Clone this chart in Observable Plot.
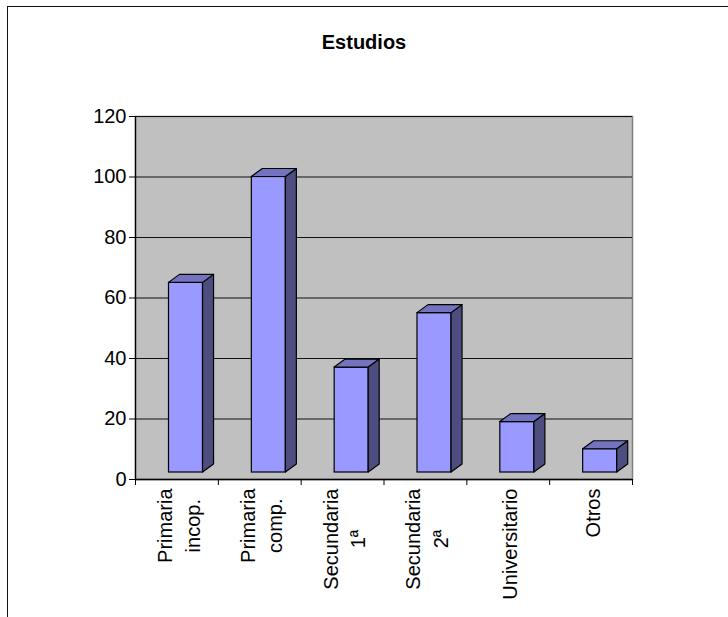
<!DOCTYPE html>
<html>
<head>
<meta charset="utf-8">
<script src="https://cdn.jsdelivr.net/npm/d3@7"></script>
<script src="https://cdn.jsdelivr.net/npm/@observablehq/plot@0.6"></script>
<style>
  html, body { margin: 0; padding: 0; background: #fff; overflow: hidden; }
  #wrap { position: relative; width: 728px; height: 617px; font-family: "Liberation Sans", Arial, sans-serif; }
  #border { position: absolute; left: 7px; top: 6px; width: 760px; height: 660px;
            border-left: 1.5px solid #111; border-top: 1.5px solid #111; pointer-events: none; }
  #title { position: absolute; left: 0; width: 728px; top: 31px; text-align: center;
           font-size: 20px; font-weight: bold; color: #000; }
  #chart { position: absolute; left: 0; top: 0; }
</style>
</head>
<body>
<div id="wrap">
  <div id="chart"></div>
  <div id="border"></div>
  <div id="title">Estudios</div>
</div>
<script>
const categories = ["Primaria\nincop.", "Primaria\ncomp.", "Secundaria\n1ª", "Secundaria\n2ª", "Universitario", "Otros"];
const values = [65, 100, 37, 55, 19, 10];
const yTicks = [0, 20, 40, 60, 80, 100, 120];

const data = categories.map((c, i) => ({i, cat: c, v: values[i]}));

const INSET_L = 33.5, INSET_R = 15.3, FLOOR = 7, DX = 11, DY = 8;
const LABEL_FONT = 20, LABEL_GAP = 9;

const ctx = document.createElement("canvas").getContext("2d");
ctx.font = `${LABEL_FONT}px "Liberation Sans", Arial, sans-serif`;
const longest = s => d3.max(s.split("\n"), l => ctx.measureText(l).width);

function faces(index, scales) {
  const x = scales.x, y = scales.y;
  const g = d3.create("svg:g");
  for (const d of data) {
    const xl = x(d.i) + INSET_L;
    const xr = x(d.i + 1) - INSET_R;
    const yt = y(d.v);
    const yb = y(0) - FLOOR;
    g.append("polygon")
      .attr("points", [[xr, yt], [xr + DX, yt - DY], [xr + DX, yb - DY], [xr, yb]].map(p => p.join(",")).join(" "))
      .attr("fill", "#4D4D80").attr("stroke", "#000").attr("stroke-width", 1.2).attr("stroke-linejoin", "round");
    g.append("polygon")
      .attr("points", [[xl, yt], [xl + DX, yt - DY], [xr + DX, yt - DY], [xr, yt]].map(p => p.join(",")).join(" "))
      .attr("fill", "#7373BF").attr("stroke", "#000").attr("stroke-width", 1.2).attr("stroke-linejoin", "round");
  }
  return g.node();
}

const labelMarks = data.map(d => Plot.text([d], {
  x: e => e.i + 0.5, y: 0, text: "cat", rotate: -90, textAnchor: "middle",
  dy: LABEL_GAP + longest(d.cat) / 2, lineHeight: 1.38, fontSize: LABEL_FONT, fill: "#000"
}));

const chart = Plot.plot({
  width: 728,
  height: 617,
  marginLeft: 135,
  marginRight: 96,
  marginTop: 116,
  marginBottom: 138,
  style: { fontFamily: "'Liberation Sans', Arial, sans-serif", fontSize: "20px", color: "#000", background: "transparent" },
  x: { type: "linear", domain: [0, categories.length] },
  y: { domain: [0, 120] },
  marks: [
    Plot.frame({ fill: "#C0C0C0", stroke: "#808080", strokeWidth: 1.5 }),
    Plot.ruleY(yTicks, { stroke: "#111", strokeWidth: 1.2 }),
    Plot.axisY({ ticks: yTicks, tickSize: 6, tickPadding: 3, label: null, tickFormat: d => d, stroke: "#000", fontSize: 20 }),
    Plot.axisX({ ticks: d3.range(0, categories.length + 1), tickSize: 6, tickFormat: () => "", label: null, stroke: "#000" }),
    Plot.ruleX([0], { stroke: "#000", strokeWidth: 1.3 }),
    Plot.ruleY([0], { stroke: "#000", strokeWidth: 1.3 }),
    Plot.rectY(data, { x1: "i", x2: d => d.i + 1, y1: 0, y2: "v",
      insetLeft: INSET_L, insetRight: INSET_R, insetBottom: FLOOR,
      fill: "#9999FF", stroke: "#000", strokeWidth: 1.2 }),
    faces,
    ...labelMarks
  ]
});
document.getElementById("chart").appendChild(chart);
</script>
</body>
</html>
